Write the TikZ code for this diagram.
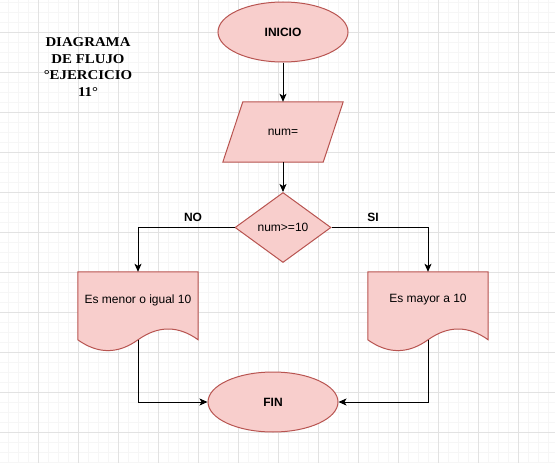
\documentclass[tikz,border=0pt]{standalone}
\usepackage{fontspec}
\setmainfont{Liberation Sans}
\newfontfamily\titlefont{Liberation Serif}
\usetikzlibrary{shapes.geometric,arrows.meta,calc}
\definecolor{shfill}{HTML}{F8CECC}
\definecolor{shdraw}{HTML}{B85450}
\definecolor{gridmaj}{HTML}{E2E2E2}
\definecolor{gridmin}{HTML}{F6F6F6}
\pgfdeclarelayer{gridlayer}
\pgfdeclarelayer{bglayer}
\pgfsetlayers{gridlayer,bglayer,main}
\newcommand\mydocshape[1]{%
  \path[shp] (#1.north west) -- (#1.north east) -- ($(#1.north east)+(0,68)$)
    .. controls ($(#1.north east)+(-20,53.6)$) and ($(#1.north east)+(-40,53.6)$) .. ($(#1.north)+(0,68)$)
    .. controls ($(#1.north)+(-20,82.4)$) and ($(#1.north)+(-40,82.4)$) .. ($(#1.north west)+(0,68)$) -- cycle;
  \coordinate (#1-w) at ($(#1.north)+(0,68)$);}
\begin{document}
\begin{tikzpicture}[x=1pt,y=-1pt,
  every node/.style={font=\fontsize{12}{14}\selectfont},
  shp/.style={fill=shfill,draw=shdraw,line width=1pt},
  term/.style={shp,ellipse,minimum width=130pt,minimum height=60pt,inner sep=0pt,font=\bfseries\fontsize{12}{14}\selectfont},
  box/.style={minimum width=120pt,inner sep=0pt},
  dec/.style={shp,diamond,minimum width=96pt,minimum height=70pt,inner sep=0pt},
  conn/.style={line width=1pt,-{Stealth[length=8pt,width=7pt,inset=2pt]}},
  lbl/.style={font=\bfseries\fontsize{12}{14}\selectfont}]
\useasboundingbox (0,0) rectangle (555,463);
\begin{pgfonlayer}{gridlayer}
  \fill[white] (0,0) rectangle (555,463);
  \foreach \x in {8,18,...,548} \draw[gridmin,line width=1pt] (\x,0) -- (\x,463);
  \foreach \y in {2,12,...,462} \draw[gridmin,line width=1pt] (0,\y) -- (555,\y);
  \foreach \x in {38,78,...,518} \draw[gridmaj,line width=1pt] (\x,0) -- (\x,463);
  \foreach \y in {32,72,...,432} \draw[gridmaj,line width=1pt] (0,\y) -- (555,\y);
\end{pgfonlayer}

\begin{scope}[shift={(88,67)}]
  \node[font=\titlefont\bfseries\fontsize{13.5}{16.7}\selectfont, align=center, xscale=1.1, transform shape] (title) at (0,0) {DIAGRAMA\\DE FLUJO\\°EJERCICIO\\11°};
\end{scope}

\node[term] (inicio) at (283,32) {INICIO};
\node[box,minimum height=60pt] (num) at (283,132) {num=};
\node[dec] (cond) at (283,227.5) {num>=10};
\node[box,minimum height=56pt] (menor) at (138,300) {Es menor o igual 10};
\node[box,minimum height=56pt] (mayor) at (428,300) {Es mayor a 10};
\node[term] (fin) at (273,402) {FIN};
\node[lbl] (no) at (193,217) {NO};
\node[lbl] (si) at (373,217) {SI};

\begin{pgfonlayer}{bglayer}
  \path[shp] ($(num.north west)+(20,0)$) -- (num.north east) -- ($(num.south east)+(-20,0)$) -- (num.south west) -- cycle;
  \mydocshape{menor}
  \mydocshape{mayor}
\end{pgfonlayer}

\draw[conn] (inicio.south) -- (num.north);
\draw[conn] (num.south) -- (cond.north);
\draw[conn] (cond.west) -| (menor.north);
\draw[conn] (cond.east) -| (mayor.north);
\draw[conn] (menor-w) |- (fin.west);
\draw[conn] (mayor-w) |- (fin.east);
\end{tikzpicture}
\end{document}
